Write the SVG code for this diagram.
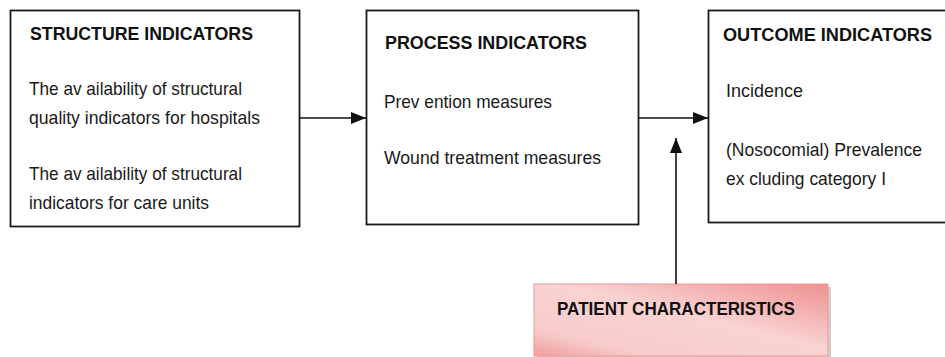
<svg xmlns="http://www.w3.org/2000/svg" width="945" height="357" viewBox="0 0 945 357">
  <defs>
    <style>
      .box { fill: #ffffff; stroke: #1a1a1a; stroke-width: 1.8; }
      .head { font-family: "Liberation Sans", Arial, sans-serif; font-size: 18.5px; font-weight: bold; fill: #111111; }
      .body { font-family: "Liberation Sans", Arial, sans-serif; font-size: 19px; fill: #1a1a1a; }
      .link { stroke: #111111; stroke-width: 1.6; fill: none; }
    </style>
    <marker id="arrow" viewBox="0 0 15 12" refX="15" refY="6" markerWidth="15" markerHeight="12" markerUnits="userSpaceOnUse" orient="auto">
      <path d="M0,0 L15,6 L0,12 Z" fill="#111111"/>
    </marker>
    <linearGradient id="pink" x1="1" y1="0" x2="0" y2="1">
      <stop offset="0" stop-color="#ee9090"/>
      <stop offset="0.45" stop-color="#f9d2d2"/>
      <stop offset="0.8" stop-color="#f8cccc"/>
      <stop offset="1" stop-color="#ef9e9e"/>
    </linearGradient>
  </defs>

  <g id="structure">
    <rect class="box" x="10.5" y="10.5" width="289" height="216"/>
    <text class="head" x="30" y="40" textLength="223" lengthAdjust="spacingAndGlyphs">STRUCTURE INDICATORS</text>
    <text class="body" x="29" y="95" textLength="213" lengthAdjust="spacingAndGlyphs">The av ailability of structural</text>
    <text class="body" x="29" y="124" textLength="231" lengthAdjust="spacingAndGlyphs">quality indicators for hospitals</text>
    <text class="body" x="29" y="180" textLength="213" lengthAdjust="spacingAndGlyphs">The av ailability of structural</text>
    <text class="body" x="29" y="209" textLength="180" lengthAdjust="spacingAndGlyphs">indicators for care units</text>
  </g>

  <g id="process">
    <rect class="box" x="366.5" y="10.5" width="272" height="214"/>
    <text class="head" x="385" y="49" textLength="202" lengthAdjust="spacingAndGlyphs">PROCESS INDICATORS</text>
    <text class="body" x="384" y="108" textLength="168" lengthAdjust="spacingAndGlyphs">Prev ention measures</text>
    <text class="body" x="384" y="164" textLength="217" lengthAdjust="spacingAndGlyphs">Wound treatment measures</text>
  </g>

  <g id="outcome">
    <rect class="box" x="708.5" y="10.5" width="250" height="212"/>
    <text class="head" x="723" y="41" textLength="209" lengthAdjust="spacingAndGlyphs">OUTCOME INDICATORS</text>
    <text class="body" x="726" y="97" textLength="77" lengthAdjust="spacingAndGlyphs">Incidence</text>
    <text class="body" x="726" y="156" textLength="196" lengthAdjust="spacingAndGlyphs">(Nosocomial) Prevalence</text>
    <text class="body" x="726" y="185" textLength="160" lengthAdjust="spacingAndGlyphs">ex cluding category I</text>
  </g>

  <g id="patient">
    <rect x="537" y="287" width="294" height="72" fill="#c8b4b4" opacity="0.7"/>
    <rect x="534" y="284" width="294" height="72" fill="url(#pink)" stroke="#ec9a9a" stroke-width="1"/>
    <text class="head" x="557" y="315" textLength="238" lengthAdjust="spacingAndGlyphs">PATIENT CHARACTERISTICS</text>
  </g>

  <g id="connectors">
    <line class="link" x1="299" y1="118" x2="366" y2="118" marker-end="url(#arrow)"/>
    <line class="link" x1="638" y1="118" x2="708" y2="118" marker-end="url(#arrow)"/>
    <line class="link" x1="676" y1="284" x2="676" y2="138" marker-end="url(#arrow)"/>
  </g>
</svg>
